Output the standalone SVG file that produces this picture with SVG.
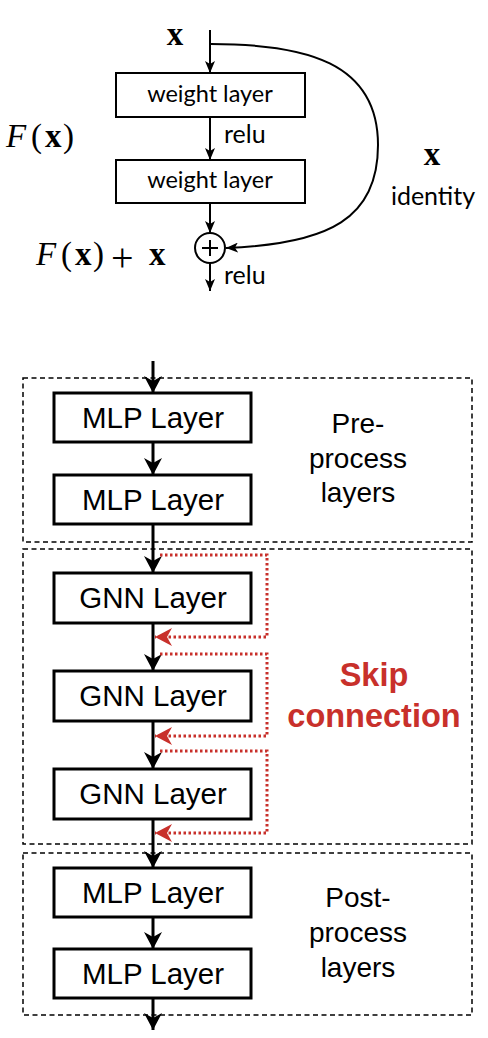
<svg xmlns="http://www.w3.org/2000/svg" width="488" height="1038" viewBox="0 0 488 1038">
<style>
.bg{fill:#ffffff}
.tbox{fill:#ffffff;stroke:#000;stroke-width:2}
.tline{fill:none;stroke:#000;stroke-width:2}
.tt{font-family:Lato,"Open Sans","Liberation Sans",sans-serif;font-size:23.5px;fill:#000}
.tr{font-family:Lato,"Open Sans","Liberation Sans",sans-serif;font-size:25px;fill:#000}
.math{font-family:"Liberation Serif","DejaVu Serif",serif;font-size:33px;fill:#000}
.mb{font-weight:bold}
.mi{font-style:italic}
.box{fill:#ffffff;stroke:#000;stroke-width:3}
.bt{font-family:"Liberation Sans",Arial,sans-serif;font-size:29.5px;fill:#000;text-anchor:middle}
.st{font-family:"Liberation Sans",Arial,sans-serif;font-size:28px;fill:#000;text-anchor:middle}
.grp{fill:none;stroke:#000;stroke-width:1.5;stroke-dasharray:5 3.5}
.main{fill:none;stroke:#000;stroke-width:3}
.skip{fill:none;stroke:#c8302b;stroke-width:3;stroke-dasharray:2.5 2.5}
.red{font-family:"Liberation Sans",Arial,sans-serif;font-size:32.5px;font-weight:bold;fill:#c8302b;text-anchor:middle}
</style>
<defs>
<marker id="ah" viewBox="0 0 12 10" refX="12" refY="5" markerWidth="12" markerHeight="10" markerUnits="userSpaceOnUse" orient="auto"><path d="M0,0 L12,5 L0,10 L3,5 Z" fill="#000"/></marker>
<marker id="big" viewBox="0 0 17 18" refX="17" refY="9" markerWidth="17" markerHeight="18" markerUnits="userSpaceOnUse" orient="auto"><path d="M0,0 L17,9 L0,18 L5,9 Z" fill="#000"/></marker>
<marker id="redh" viewBox="0 0 17 18" refX="17" refY="9" markerWidth="17" markerHeight="18" markerUnits="userSpaceOnUse" orient="auto"><path d="M0,0 L17,9 L0,18 L5,9 Z" fill="#c8302b"/></marker>
</defs>
<rect class="bg" x="0" y="0" width="488" height="1038"/>

<!-- top residual block -->
<g id="connectors-top">
<path class="tline" d="M210,30 V73" marker-end="url(#ah)"/>
<path class="tline" d="M210,117 V160" marker-end="url(#ah)"/>
<path class="tline" d="M210,203 V233" marker-end="url(#ah)"/>
<path class="tline" d="M210,263 V291" marker-end="url(#ah)"/>
<path class="tline" d="M211,44 C305,44 378,62 378,145 C378,218 330,244 226,248" marker-end="url(#ah)"/>
</g>
<g id="wl1"><rect class="tbox" x="116" y="73" width="189" height="44"/><text class="tt" x="210" y="102" text-anchor="middle">weight layer</text></g>
<g id="wl2"><rect class="tbox" x="116" y="160" width="189" height="43"/><text class="tt" x="210" y="188" text-anchor="middle">weight layer</text></g>
<g id="plus"><circle cx="210" cy="248" r="15" fill="#fff" stroke="#000" stroke-width="2"/><path d="M202,248 H218 M210,240 V256" stroke="#000" stroke-width="2"/></g>
<g id="labels-top">
<text class="math mb" x="175" y="45" text-anchor="middle">x</text>
<text class="tr" x="224" y="143">relu</text>
<text class="tr" x="224" y="284">relu</text>
<text class="math" y="147"><tspan class="mi" x="6">F</tspan><tspan x="31">(</tspan><tspan class="mb" x="45">x</tspan><tspan x="63">)</tspan></text>
<text class="math" y="265"><tspan class="mi" x="36">F</tspan><tspan x="61">(</tspan><tspan class="mb" x="75">x</tspan><tspan x="93">)</tspan><tspan x="111" dy="6" font-size="40">+</tspan><tspan class="mb" x="149" dy="-6">x</tspan></text>
<text class="math mb" x="432" y="165" text-anchor="middle">x</text>
<text class="tr" x="433" y="205" text-anchor="middle">identity</text>
</g>

<!-- bottom GNN pipeline -->
<g id="groups">
<rect class="grp" x="23" y="378" width="449" height="164"/>
<rect class="grp" x="23" y="549" width="449" height="295"/>
<rect class="grp" x="23" y="853" width="449" height="162"/>
</g>
<g id="connectors">
<path class="main" d="M153,361 V393" marker-end="url(#big)"/>
<path class="main" d="M153,442 V475" marker-end="url(#big)"/>
<path class="main" d="M153,524 V573" marker-end="url(#big)"/>
<path class="main" d="M153,623 V671" marker-end="url(#big)"/>
<path class="main" d="M153,721 V769" marker-end="url(#big)"/>
<path class="main" d="M153,819 V868" marker-end="url(#big)"/>
<path class="main" d="M153,917 V949" marker-end="url(#big)"/>
<path class="main" d="M153,998 V1030" marker-end="url(#big)"/>
<path class="skip" d="M160,555 H267 V637 H155" marker-end="url(#redh)"/>
<path class="skip" d="M160,654 H267 V736 H155" marker-end="url(#redh)"/>
<path class="skip" d="M160,751 H267 V833 H155" marker-end="url(#redh)"/>
</g>
<g id="mlp1"><rect class="box" x="54" y="393" width="197" height="49"/><text class="bt" x="153" y="428">MLP Layer</text></g>
<g id="mlp2"><rect class="box" x="54" y="475" width="197" height="49"/><text class="bt" x="153" y="510">MLP Layer</text></g>
<g id="gnn1"><rect class="box" x="54" y="573" width="197" height="50"/><text class="bt" x="153" y="608">GNN Layer</text></g>
<g id="gnn2"><rect class="box" x="54" y="671" width="197" height="50"/><text class="bt" x="153" y="706">GNN Layer</text></g>
<g id="gnn3"><rect class="box" x="54" y="769" width="197" height="50"/><text class="bt" x="153" y="804">GNN Layer</text></g>
<g id="mlp3"><rect class="box" x="54" y="868" width="197" height="49"/><text class="bt" x="153" y="903">MLP Layer</text></g>
<g id="mlp4"><rect class="box" x="54" y="949" width="197" height="49"/><text class="bt" x="153" y="984">MLP Layer</text></g>
<g id="group-labels">
<text class="st"><tspan x="358" y="433">Pre-</tspan><tspan x="358" y="468">process</tspan><tspan x="358" y="502">layers</tspan></text>
<text class="red"><tspan x="374" y="686">Skip</tspan><tspan x="374" y="727">connection</tspan></text>
<text class="st"><tspan x="358" y="907">Post-</tspan><tspan x="358" y="942">process</tspan><tspan x="358" y="977">layers</tspan></text>
</g>
</svg>
